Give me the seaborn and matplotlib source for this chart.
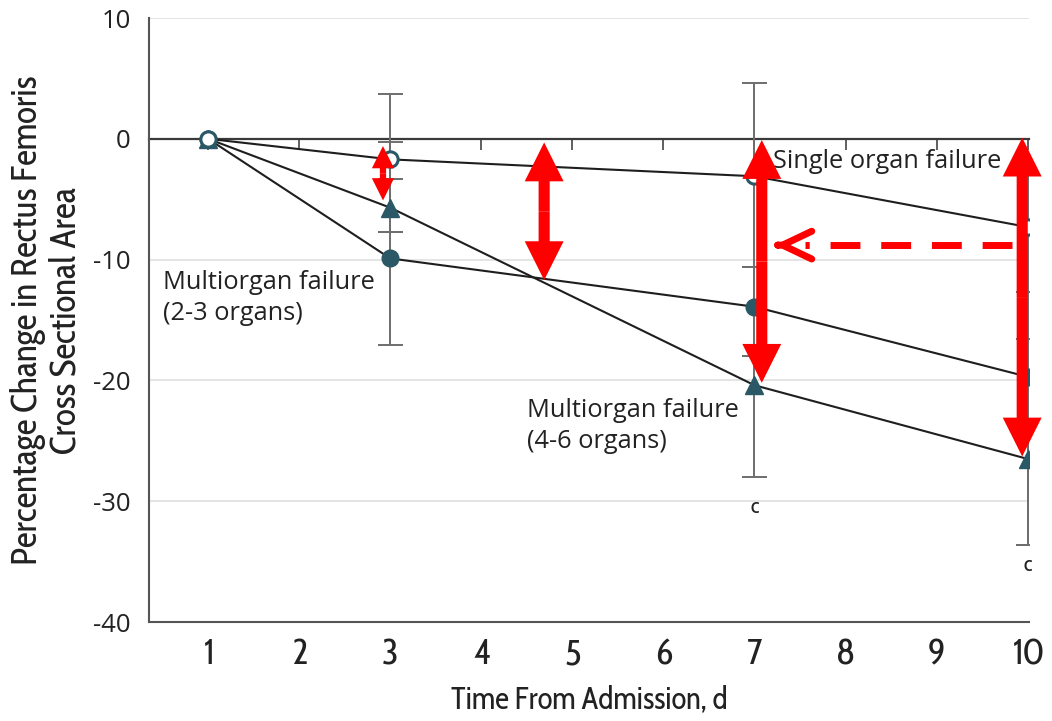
import numpy as np
import matplotlib
matplotlib.use("Agg")
import matplotlib.pyplot as plt
import seaborn as sns

# percentage change in rectus femoris CSA
days = [1, 3, 7, 10]
single_organ = [0, -1.7, -3.1, -7.3]
multi_2_3 = [0, -9.9, -13.9, -19.7]
multi_4_6 = [0, -5.7, -20.4, -26.5]

# error bar ends as drawn (NaN = no bar at day 1)
single_lo = [np.nan, -7.7, -10.6, -12.7]
single_hi = [np.nan, 3.7, 4.6, -2.0]
multi_2_3_lo = [np.nan, -17.1, -18.0, -33.6]
multi_2_3_hi = [np.nan, -3.3, -10.6, -12.7]
multi_4_6_lo = [np.nan, -7.7, -28.0, -33.6]
multi_4_6_hi = [np.nan, -0.3, -18.0, -16.6]

x_ticks = list(range(1, 11))
y_ticks = [-40, -30, -20, -10, 0, 10]

TEAL = "#2b5866"
LINE = "#1e1e1e"
AXIS = "#555555"
NARROW = dict(family=["Cabin Condensed", "Archivo Narrow", "DejaVu Sans"])

sns.set_style("white")
plt.rcParams["font.family"] = ["Open Sans", "DejaVu Sans"]
plt.rcParams["axes.unicode_minus"] = False

fig = plt.figure(figsize=(10.52, 7.21), dpi=100)
ax = fig.add_axes([0.1416, 0.1373, 0.837, 0.8377])
ax.set_xlim(0.35, 10.02)
ax.set_ylim(-40, 10)

# light grid, zero line drawn separately below
for y in y_ticks:
    if y not in (0, -40):
        ax.axhline(y, color="#e2e2e2", lw=1.3, zorder=0.5)

# error bars
for vals, lo, hi in [(single_organ, single_lo, single_hi),
                     (multi_2_3, multi_2_3_lo, multi_2_3_hi),
                     (multi_4_6, multi_4_6_lo, multi_4_6_hi)]:
    v = np.array(vals)
    err = [v - np.array(lo), np.array(hi) - v]
    ax.errorbar(days, v, yerr=err, fmt="none", ecolor="#6e6e6e",
                elinewidth=1.4, capsize=9, capthick=1.4, zorder=1.5)

# series lines
sns.lineplot(x=days, y=multi_2_3, ax=ax, color=LINE, linewidth=1.5,
             marker="o", markersize=12, markerfacecolor=TEAL,
             markeredgecolor=TEAL, markeredgewidth=1, zorder=3)
sns.lineplot(x=days, y=multi_4_6, ax=ax, color=LINE, linewidth=1.5,
             marker="^", markersize=13, markerfacecolor=TEAL,
             markeredgecolor=TEAL, markeredgewidth=1, zorder=3)
sns.lineplot(x=days, y=single_organ, ax=ax, color=LINE, linewidth=1.5,
             marker="o", markersize=11, markerfacecolor="white",
             markeredgecolor=TEAL, markeredgewidth=2.2, zorder=4)

# zero reference line with its own small ticks
y0, y1 = ax.get_ylim()
zero_ax = ax.secondary_xaxis((0 - y0) / (y1 - y0))
zero_ax.set_xticks(x_ticks)
zero_ax.tick_params(axis="x", direction="in", length=8, width=1.2,
                    color="#444444", labeltop=False, labelbottom=False)
zero_ax.spines["top"].set_color("#3a3a3a")
zero_ax.spines["top"].set_linewidth(1.6)
zero_ax.set_zorder(1)

# axes styling
sns.despine(ax=ax)
for side in ("left", "bottom"):
    ax.spines[side].set_color(AXIS)
    ax.spines[side].set_linewidth(1.5)
ax.set_xticks(x_ticks, labels=[str(t) for t in x_ticks],
              fontsize=26, color="#222222", **NARROW)
ax.set_yticks(y_ticks, labels=[str(t) for t in y_ticks],
              fontsize=18.5, color="#222222")
ax.tick_params(axis="both", direction="out", length=8, width=1.2,
               color=AXIS, pad=5)
ax.tick_params(axis="x", pad=3)
ax.set_xlabel("Time From Admission, d", fontsize=22.3,
              color="#222222", labelpad=8, **NARROW)
ax.set_ylabel("Percentage Change in Rectus Femoris\nCross Sectional Area",
              fontsize=25.5, color="#222222",
              labelpad=6, linespacing=1.12, **NARROW)

# series labels
ax.text(0.5, -13.2, "Multiorgan failure\n(2-3 organs)", fontsize=18.3,
        color="#222222", va="center", ha="left", linespacing=1.3)
ax.text(4.5, -23.8, "Multiorgan failure\n(4-6 organs)", fontsize=18.3,
        color="#222222", va="center", ha="left", linespacing=1.3)
ax.text(7.2, -1.9, "Single organ failure", fontsize=18.3,
        color="#222222", va="center", ha="left")
ax.text(7.0, -30.5, "c", fontsize=16, color="#222222",
        ha="center", va="center", **NARROW)
ax.text(10.0, -35.3, "c", fontsize=16, color="#222222",
        ha="center", va="center", **NARROW)


# red highlight arrows drawn over the chart
def double_arrow(x, ya, yb, hw, hl, tw):
    mid = (ya + yb) / 2
    style = f"simple,head_length={hl},head_width={hw},tail_width={tw}"
    for end in (ya, yb):
        ax.annotate("", xy=(x, end), xytext=(x, mid),
                    arrowprops=dict(arrowstyle=style, color="red", lw=0,
                                    shrinkA=0, shrinkB=0, mutation_scale=1),
                    zorder=6)


double_arrow(2.92, -0.6, -5.1, 16, 16, 4.5)
double_arrow(4.69, -0.3, -11.7, 28, 28, 8)
double_arrow(7.08, -0.1, -20.2, 28, 28, 8)
double_arrow(9.94, 0.1, -26.3, 28, 28, 8)

ax.plot([9.83, 7.55], [-8.8, -8.8], color="red", lw=5,
        dashes=(4.3, 3.0), solid_capstyle="butt", zorder=6)
ax.annotate("", xy=(7.22, -8.8), xytext=(7.26, -8.8),
            arrowprops=dict(arrowstyle="->,head_length=21,head_width=10",
                            color="red", lw=5, shrinkA=0, shrinkB=0,
                            mutation_scale=1, capstyle="round",
                            joinstyle="round"),
            zorder=6)

fig.savefig("out.png", dpi=100)
